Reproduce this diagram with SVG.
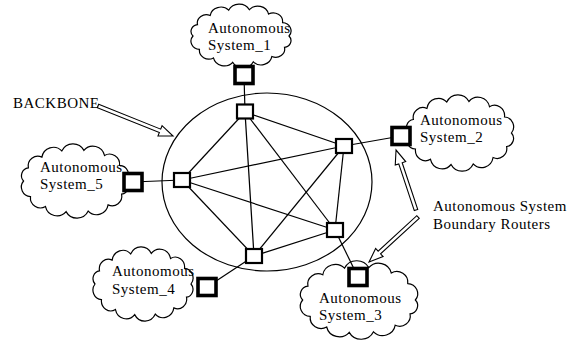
<svg xmlns="http://www.w3.org/2000/svg" xmlns:xlink="http://www.w3.org/1999/xlink" width="572" height="342" viewBox="0 0 572 342">
  <style>
    .cloud { fill: #fff; stroke: #000; stroke-width: 1.2; vector-effect: non-scaling-stroke; }
    .link { stroke: #000; stroke-width: 1.2; fill: none; }
    .rtr { fill: #fff; stroke: #000; stroke-width: 2.2; }
    .asbr { fill: #fff; stroke: #000; stroke-width: 3.6; }
    .lbl { font-family: "Liberation Serif", "Times New Roman", serif; font-size: 15px; letter-spacing: 0.5px; fill: #000; }
    .harrow { fill: #fff; stroke: #000; stroke-width: 1.1; stroke-linejoin: miter; }
  </style>
  <defs>
    <!-- bumpy cloud outline centred on 0,0 -->
    <path id="cloud" class="cloud" d="M49,0 A7.4,7.4 0 0 1 44.4,12.4 A9.2,9.2 0 0 1 31.5,22.5 A11.1,11.1 0 0 1 12.6,28.4 A11.9,11.9 0 0 1 -8.5,28.9 A11.3,11.3 0 0 1 -28.1,24.1 A9.6,9.6 0 0 1 -42.4,14.7 A9,9 0 0 1 -49,0 A7.4,7.4 0 0 1 -44.4,-12.4 A9.2,9.2 0 0 1 -31.5,-22.5 A11.1,11.1 0 0 1 -12.6,-28.4 A11.9,11.9 0 0 1 8.5,-28.9 A11.3,11.3 0 0 1 28.1,-24.1 A9.6,9.6 0 0 1 42.4,-14.7 A9,9 0 0 1 49,0 Z"/>
  </defs>

  <!-- backbone area -->
  <ellipse id="backbone" cx="267" cy="182" rx="105" ry="89" fill="none" stroke="#000" stroke-width="1.2"/>

  <!-- autonomous system clouds -->
  <g id="as1"><use xlink:href="#cloud" transform="translate(241,36) scale(0.98,0.91)"/>
    <text class="lbl" x="208" y="33">Autonomous</text><text class="lbl" x="208" y="50">System_1</text></g>
  <g id="as2"><use xlink:href="#cloud" transform="translate(460,133) scale(1.05,1.09)"/>
    <text class="lbl" x="420" y="125">Autonomous</text><text class="lbl" x="420" y="142">System_2</text></g>
  <g id="as5"><use xlink:href="#cloud" transform="translate(75,181) scale(1.05,1.06)"/>
    <text class="lbl" x="40" y="172">Autonomous</text><text class="lbl" x="40" y="189">System_5</text></g>
  <g id="as4"><use xlink:href="#cloud" transform="translate(143,284) scale(0.98,1.06)"/>
    <text class="lbl" x="112" y="276">Autonomous</text><text class="lbl" x="112" y="294">System_4</text></g>
  <g id="as3"><use xlink:href="#cloud" transform="translate(359,300) scale(1.15,1.12)"/>
    <text class="lbl" x="319" y="303">Autonomous</text><text class="lbl" x="319" y="320">System_3</text></g>

  <!-- links -->
  <g id="links">
    <!-- full mesh inside the backbone -->
    <line class="link" x1="245" y1="112" x2="344" y2="146"/>
    <line class="link" x1="245" y1="112" x2="182" y2="180"/>
    <line class="link" x1="245" y1="112" x2="335" y2="230"/>
    <line class="link" x1="245" y1="112" x2="254" y2="256"/>
    <line class="link" x1="344" y1="146" x2="182" y2="180"/>
    <line class="link" x1="344" y1="146" x2="335" y2="230"/>
    <line class="link" x1="344" y1="146" x2="254" y2="256"/>
    <line class="link" x1="182" y1="180" x2="335" y2="230"/>
    <line class="link" x1="182" y1="180" x2="254" y2="256"/>
    <line class="link" x1="335" y1="230" x2="254" y2="256"/>
    <!-- backbone to boundary routers -->
    <line class="link" x1="244" y1="75" x2="245" y2="112"/>
    <line class="link" x1="344" y1="146" x2="401" y2="136"/>
    <line class="link" x1="133" y1="182" x2="182" y2="180"/>
    <line class="link" x1="254" y1="256" x2="207" y2="287"/>
    <line class="link" x1="335" y1="230" x2="358" y2="277"/>
  </g>

  <!-- backbone routers -->
  <g id="r1"><rect class="rtr" x="237" y="104.5" width="16" height="14"/></g>
  <g id="r2"><rect class="rtr" x="336" y="139" width="16" height="14"/></g>
  <g id="r3"><rect class="rtr" x="174" y="173" width="16" height="14"/></g>
  <g id="r4"><rect class="rtr" x="327" y="223" width="16" height="14"/></g>
  <g id="r5"><rect class="rtr" x="246" y="249" width="16" height="14"/></g>

  <!-- boundary routers -->
  <g id="b1"><rect class="asbr" x="235" y="66.5" width="18" height="17"/></g>
  <g id="b2"><rect class="asbr" x="392" y="127.5" width="18" height="17"/></g>
  <g id="b5"><rect class="asbr" x="124" y="173.5" width="18" height="17"/></g>
  <g id="b4"><rect class="asbr" x="198" y="278.5" width="18" height="17"/></g>
  <g id="b3"><rect class="asbr" x="349" y="268.5" width="18" height="17"/></g>

  <!-- labels with hollow pointer arrows -->
  <g id="backbone-label">
    <text class="lbl" x="13" y="108">BACKBONE</text>
    <polygon class="harrow" transform="translate(98,106) rotate(21.8)" points="0,-1.8 66.8,-1.8 66.8,-5.5 80.8,0 66.8,5.5 66.8,1.8 0,1.8"/>
  </g>
  <g id="asbr-label">
    <text class="lbl" x="433" y="211">Autonomous System</text>
    <text class="lbl" x="433" y="229">Boundary Routers</text>
    <polygon class="harrow" transform="translate(416,210) rotate(-108.4)" points="0,-1.8 49.2,-1.8 49.2,-5.5 63.2,0 49.2,5.5 49.2,1.8 0,1.8"/>
    <polygon class="harrow" transform="translate(418,217) rotate(137.4)" points="0,-1.8 52.5,-1.8 52.5,-5.5 66.5,0 52.5,5.5 52.5,1.8 0,1.8"/>
  </g>
</svg>
